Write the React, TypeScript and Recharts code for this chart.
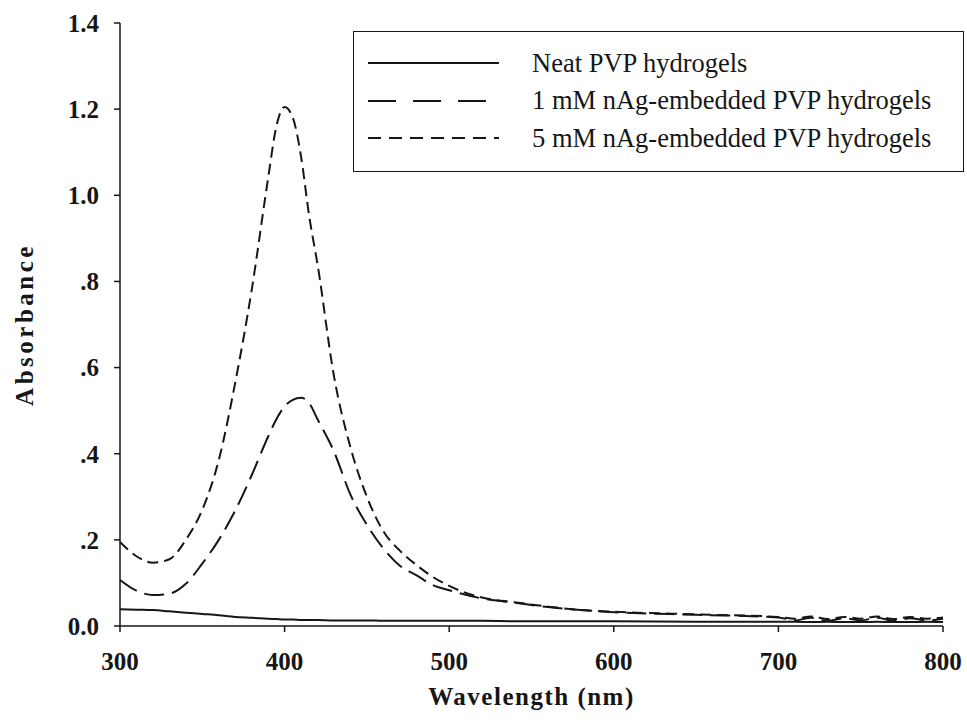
import { CartesianGrid, Label, Line, LineChart, XAxis, YAxis } from "recharts";

const wavelengths = [300, 310, 320, 330, 340, 350, 360, 370, 380, 390, 395, 400, 405, 410, 415, 420, 430, 440, 450, 460, 470, 480, 490, 500, 520, 540, 560, 580, 600, 650, 700, 710, 720, 730, 740, 750, 760, 770, 780, 790, 800];
const neat = [0.039, 0.038, 0.037, 0.034, 0.031, 0.028, 0.025, 0.021, 0.019, 0.017, 0.016, 0.015, 0.015, 0.014, 0.014, 0.014, 0.013, 0.013, 0.013, 0.012, 0.012, 0.012, 0.012, 0.012, 0.012, 0.011, 0.011, 0.011, 0.011, 0.010, 0.010, 0.010, 0.009, 0.010, 0.009, 0.009, 0.010, 0.009, 0.009, 0.010, 0.009];
const oneMM = [0.107, 0.082, 0.072, 0.075, 0.098, 0.145, 0.2, 0.268, 0.35, 0.44, 0.48, 0.51, 0.525, 0.53, 0.517, 0.48, 0.405, 0.305, 0.235, 0.18, 0.14, 0.118, 0.095, 0.083, 0.064, 0.054, 0.044, 0.037, 0.032, 0.026, 0.02, 0.013, 0.019, 0.012, 0.018, 0.013, 0.019, 0.012, 0.018, 0.013, 0.017];
const fiveMM = [0.195, 0.162, 0.147, 0.155, 0.2, 0.27, 0.385, 0.565, 0.78, 1.04, 1.16, 1.205, 1.18, 1.09, 0.95, 0.84, 0.58, 0.415, 0.3, 0.22, 0.175, 0.142, 0.114, 0.093, 0.066, 0.055, 0.045, 0.037, 0.033, 0.027, 0.021, 0.017, 0.022, 0.016, 0.021, 0.017, 0.022, 0.016, 0.021, 0.017, 0.02];

const seriesNames = ["Neat PVP hydrogels", "1 mM nAg-embedded PVP hydrogels", "5 mM nAg-embedded PVP hydrogels"];
const xTicks = [300, 400, 500, 600, 700, 800];
const yTicks = [0, 0.2, 0.4, 0.6, 0.8, 1.0, 1.2, 1.4];
const yTickLabels = ["0.0", ".2", ".4", ".6", ".8", "1.0", "1.2", "1.4"];

const data = wavelengths.map((wl, i) => ({ wl, neat: neat[i], one: oneMM[i], five: fiveMM[i] }));

const font = "'Liberation Serif', 'Times New Roman', serif";
const ink = "#161616";
const dashes = [undefined, "20 8", "11 6"];
const legendDashes = [undefined, "28 17", "13 8"];

export default function App() {
  return (
    <div style={{ position: "absolute", left: 0, top: 0, width: 967, height: 723, background: "#fff" }}>
      <LineChart width={967} height={723} data={data} margin={{ top: 23, right: 24, bottom: 0, left: 0 }}>
        <CartesianGrid stroke="none" />
        <XAxis
          dataKey="wl"
          type="number"
          domain={[300, 800]}
          ticks={xTicks}
          height={97}
          stroke={ink}
          strokeWidth={1.5}
          tickSize={6}
          tickMargin={20}
          tick={{ fill: ink, fontSize: 25, fontWeight: "bold", fontFamily: font }}
        >
          <Label value="Wavelength (nm)" position="insideBottom" offset={18} style={{ fill: ink, fontSize: 25, fontWeight: "bold", fontFamily: font, letterSpacing: 1.5 }} />
        </XAxis>
        <YAxis
          type="number"
          domain={[0, 1.4]}
          ticks={yTicks}
          width={120}
          stroke={ink}
          strokeWidth={1.5}
          tickSize={6}
          tickMargin={15}
          tickFormatter={(v: number) => yTickLabels[yTicks.findIndex((t) => Math.abs(t - v) < 1e-6)] ?? String(v)}
          tick={{ fill: ink, fontSize: 25, fontWeight: "bold", fontFamily: font }}
        >
          <Label value="Absorbance" angle={-90} position="insideLeft" offset={24} style={{ fill: ink, fontSize: 25, fontWeight: "bold", fontFamily: font, letterSpacing: 3.5, textAnchor: "middle" }} />
        </YAxis>
        <Line dataKey="neat" name={seriesNames[0]} type="monotone" stroke={ink} strokeWidth={2} dot={false} isAnimationActive={false} />
        <Line dataKey="one" name={seriesNames[1]} type="monotone" stroke={ink} strokeWidth={2} strokeDasharray={dashes[1]} dot={false} isAnimationActive={false} />
        <Line dataKey="five" name={seriesNames[2]} type="monotone" stroke={ink} strokeWidth={2} strokeDasharray={dashes[2]} dot={false} isAnimationActive={false} />
      </LineChart>
      <div style={{ position: "absolute", left: 353, top: 31, width: 609, height: 139, border: `1.5px solid ${ink}`, background: "#fff", fontFamily: font }}>
        {seriesNames.map((name, i) => (
          <div key={name} style={{ position: "absolute", left: 0, top: 17 + i * 37.5, height: 28, display: "flex", alignItems: "center" }}>
            <svg width={150} height={28} style={{ display: "block" }}>
              <line x1={14} x2={145} y1={14} y2={14} stroke={ink} strokeWidth={2} strokeDasharray={legendDashes[i]} />
            </svg>
            <span style={{ fontSize: 26.5, color: ink, marginLeft: 28, whiteSpace: "nowrap" }}>{name}</span>
          </div>
        ))}
      </div>
    </div>
  );
}
